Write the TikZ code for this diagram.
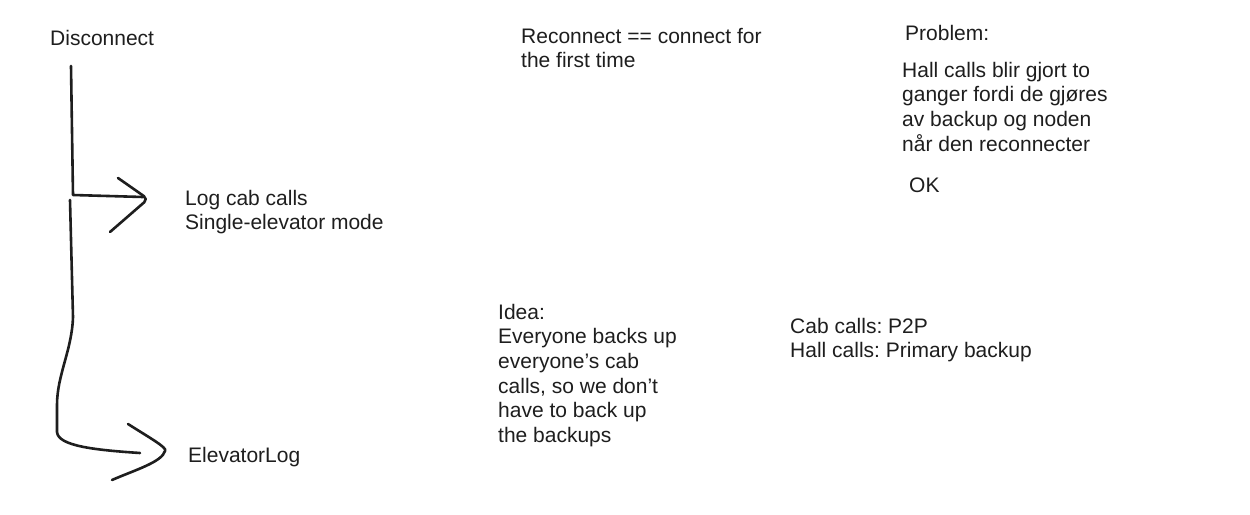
\documentclass[tikz,border=0pt]{standalone}
\usepackage{fontspec}
\setmainfont{Liberation Sans}
\definecolor{ink}{HTML}{1E1E1E}
\frenchspacing
\begin{document}
\begin{tikzpicture}[x=1pt,y=-1pt,
  txt/.style={anchor=north west,inner sep=0pt,align=left,text=ink,
    font=\fontsize{21}{24.6}\selectfont\frenchspacing},
  stroke/.style={draw=ink,line width=2.6pt,line cap=round,line join=round}]
\useasboundingbox[fill=white] (0,0) rectangle (1250,514);
\newcommand{\tp}{\rule{0pt}{16pt}}
% texts (top = baseline - 16)
\node[txt] (disc) at (50,29) {\tp Disconnect};
\node[txt] (log) at (185,189) {\tp Log cab calls\\Single-elevator mode};
\node[txt] (elog) at (188,446) {\tp ElevatorLog};
\node[txt] (recon) at (521,27) {\tp Reconnect == connect for\\the first time};
\node[txt] (prob) at (905,24) {\tp Problem:};
\node[txt] (hall) at (902,61) {\tp Hall calls blir gjort to\\ganger fordi de gjøres\\av backup og noden\\når den reconnecter};
\node[txt] (ok) at (909,176) {\tp OK};
\node[txt] (idea) at (498,303) {\tp Idea:\\Everyone backs up\\everyone's cab\\calls, so we don't\\have to back up\\the backups};
\node[txt] (cab) at (790,317) {\tp Cab calls: P2P\\Hall calls: Primary backup};
% connector 1
\coordinate (s1) at (71,66);
\coordinate (e1) at (143,197);
\draw[stroke] (s1) -- (73,195) -- (e1);
\coordinate (h1a) at (118,178);
\coordinate (h1t) at (148,199);
\coordinate (h1b) at (110,232);
\draw[stroke,rounded corners=5pt] (h1a) -- (h1t) -- (h1b);
% connector 2
\coordinate (s2) at (70,200);
\coordinate (e2) at (140,453);
\draw[stroke] (s2) -- (73,317) .. controls (72,350) and (57,375) .. (57,405)
  -- (57,432) .. controls (58,446) and (95,450) .. (e2);
\coordinate (h2a) at (128,424);
\coordinate (h2t) at (165,451);
\coordinate (h2b) at (112,480);
\draw[stroke] (h2a) .. controls (150,438) and (168,448) .. (h2t)
  .. controls (162,462) and (135,470) .. (h2b);
\end{tikzpicture}
\end{document}
